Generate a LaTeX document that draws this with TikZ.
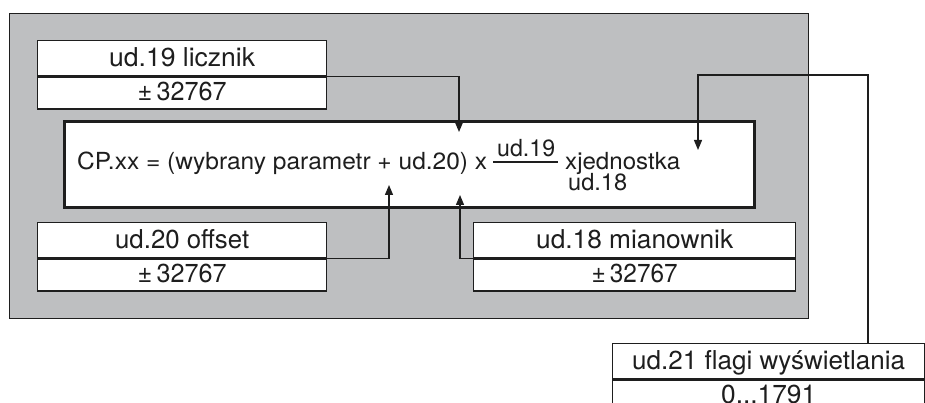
\documentclass[tikz,border=0pt]{standalone}
\usepackage{fontspec}
\setmainfont{TeX Gyre Heros}
\usetikzlibrary{arrows.meta}
\definecolor{bggray}{RGB}{190,191,193}
\definecolor{ink}{RGB}{30,30,30}
\newcommand\stretchto[2]{\resizebox{#1}{\height}{#2}}
\begin{document}
\begin{tikzpicture}[x=1pt,y=-1pt,
  pbox/.style={draw=ink, line width=1.3pt, fill=white, inner sep=0pt, text=ink,
    font=\fontsize{26}{30}\selectfont, text height=16pt, text depth=0pt},
  ftext/.style={anchor=base west, inner sep=0pt, text=ink, font=\fontsize{23.5}{27}\selectfont},
  link/.style={draw=ink, line width=1.3pt, -{Triangle[length=10pt,width=8pt]}}]
\useasboundingbox (0,0) rectangle (925,403);
\clip (0,0) rectangle (925,403);
% grey panel
\node[draw=ink, fill=bggray, line width=1.3pt, inner sep=0pt, anchor=north west,
  minimum width=799pt, minimum height=305pt] (bg) at (9,13) {};
% main formula box
\node[draw=ink, fill=white, line width=3pt, inner sep=0pt, anchor=north west,
  minimum width=690pt, minimum height=86pt] (main) at (63,120) {};
% parameter boxes
\node[pbox, anchor=north west, minimum width=289pt, minimum height=35pt] (ud19t) at (37,40) {\stretchto{146pt}{ud.19 licznik}};
\node[pbox, anchor=north, minimum width=289pt, minimum height=32pt] (ud19b) at (ud19t.south) {\stretchto{89pt}{±\,32767}};
\node[pbox, anchor=north west, minimum width=289pt, minimum height=35pt] (ud20t) at (37,222) {\stretchto{134pt}{ud.20 offset}};
\node[pbox, anchor=north, minimum width=289pt, minimum height=32pt] (ud20b) at (ud20t.south) {\stretchto{89pt}{±\,32767}};
\node[pbox, anchor=north west, minimum width=322pt, minimum height=35pt] (ud18t) at (473,222) {\stretchto{197pt}{ud.18 mianownik}};
\node[pbox, anchor=north, minimum width=322pt, minimum height=32pt] (ud18b) at (ud18t.south) {\stretchto{86pt}{±\,32767}};
\node[pbox, anchor=north west, minimum width=312pt, minimum height=35pt] (ud21t) at (612,343) {\stretchto{273pt}{ud.21 flagi wyświetlania}};
\node[pbox, anchor=north, minimum width=312pt, minimum height=31pt] (ud21b) at (ud21t.south) {\stretchto{95pt}{0...1791}};
% formula
\node[ftext] (formula) at (77,170) {\stretchto{410pt}{CP.xx = (wybrany parametr + ud.20) x}};
\node[ftext] (num) at (497,157) {\stretchto{58pt}{ud.19}};
\draw[draw=ink, line width=1.3pt] (493,162) -- (558,162);
\node[ftext] (xj) at (565,170) {\stretchto{115pt}{xjednostka}};
\node[ftext] (den) at (568,191) {\stretchto{59pt}{ud.18}};
% arrow targets
\coordinate (t19) at (459,132);
\coordinate (t20) at (389,185);
\coordinate (t18) at (460,195);
\coordinate (t21) at (698,150);
\coordinate (k21) at (868,75);
% connectors
\draw[link] (ud19t.south east) -| (t19);
\draw[link] (ud20t.south east) -| (t20);
\draw[link] (ud18t.south west) -| (t18);
\draw[link] (ud21t.north -| k21) -- (k21) -| (t21);
\end{tikzpicture}
\end{document}
